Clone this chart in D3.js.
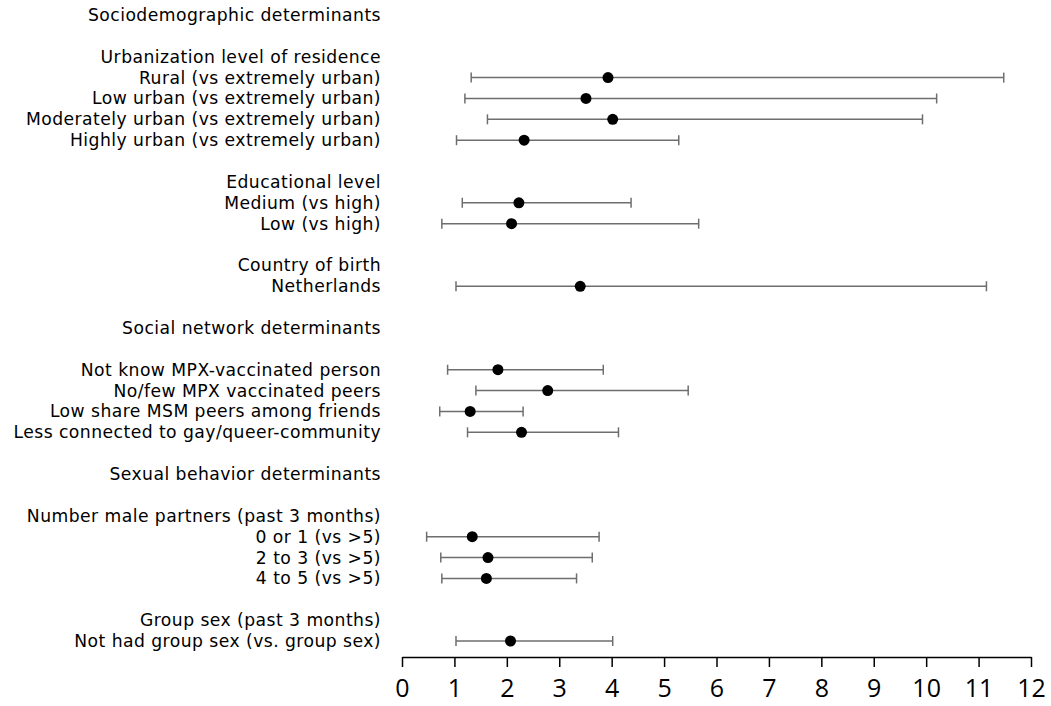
<!DOCTYPE html>
<html>
<head>
<meta charset="utf-8">
<script src="https://cdn.jsdelivr.net/npm/d3@7"></script>
<style>
  body { margin: 0; background: #fff; }
  svg { display: block; font-family: "DejaVu Sans", "Liberation Sans", Arial, sans-serif; }
</style>
</head>
<body>
<div id="chart"></div>
<script>
// one entry per row, "" = empty spacer row
const labels = [
    "Sociodemographic determinants", "",
    "Urbanization level of residence",
    "Rural (vs extremely urban)",
    "Low urban (vs extremely urban)",
    "Moderately urban (vs extremely urban)",
    "Highly urban (vs extremely urban)", "",
    "Educational level",
    "Medium (vs high)",
    "Low (vs high)", "",
    "Country of birth",
    "Netherlands", "",
    "Social network determinants", "",
    "Not know MPX-vaccinated person",
    "No/few MPX vaccinated peers",
    "Low share MSM peers among friends",
    "Less connected to gay/queer-community", "",
    "Sexual behavior determinants", "",
    "Number male partners (past 3 months)",
    "0 or 1 (vs >5)",
    "2 to 3 (vs >5)",
    "4 to 5 (vs >5)", "",
    "Group sex (past 3 months)",
    "Not had group sex (vs. group sex)"
];

// estimates per row (null = no marker)
const estimate = [null, null, null, 3.93, 3.51, 4.02, 2.33, null, null, 2.23, 2.09, null, null, 3.40, null,
    null, null, 1.83, 2.78, 1.30, 2.28, null, null, null, null, 1.34, 1.64, 1.61, null, null, 2.07];
const lower = [null, null, null, 1.32, 1.20, 1.63, 1.04, null, null, 1.15, 0.76, null, null, 1.03, null,
    null, null, 0.87, 1.41, 0.72, 1.25, null, null, null, null, 0.47, 0.74, 0.76, null, null, 1.03];
const upper = [null, null, null, 11.48, 10.20, 9.93, 5.28, null, null, 4.37, 5.66, null, null, 11.15, null,
    null, null, 3.84, 5.46, 2.31, 4.13, null, null, null, null, 3.76, 3.63, 3.33, null, null, 4.02];

const xTicks = d3.range(0, 13);

const width = 1051, height = 706;
const svg = d3.select("#chart").append("svg")
    .attr("width", width)
    .attr("height", height);

const x = d3.scaleLinear().domain([0, 12]).range([402, 1031]);
const y = d3.scaleLinear().domain([0, labels.length - 1]).range([15, 641]);

// row labels
svg.append("g")
    .selectAll("text")
    .data(labels)
    .enter().append("text")
    .attr("x", 381)
    .attr("y", (d, i) => y(i))
    .attr("dy", "0.35em")
    .attr("text-anchor", "end")
    .attr("font-size", 17.2)
    .attr("letter-spacing", 0.45)
    .attr("fill", "#000")
    .text(d => d);

const rows = labels.map((d, i) => ({ i, est: estimate[i], lo: lower[i], hi: upper[i] }))
    .filter(d => d.est != null);

const bars = svg.append("g")
    .attr("stroke", "#6e6e6e")
    .attr("stroke-width", 1.5);

bars.selectAll(".ci")
    .data(rows)
    .enter().append("line")
    .attr("x1", d => x(d.lo))
    .attr("x2", d => x(d.hi))
    .attr("y1", d => y(d.i))
    .attr("y2", d => y(d.i));

bars.selectAll(".capL")
    .data(rows)
    .enter().append("line")
    .attr("x1", d => x(d.lo))
    .attr("x2", d => x(d.lo))
    .attr("y1", d => y(d.i) - 5)
    .attr("y2", d => y(d.i) + 5);

bars.selectAll(".capR")
    .data(rows)
    .enter().append("line")
    .attr("x1", d => x(d.hi))
    .attr("x2", d => x(d.hi))
    .attr("y1", d => y(d.i) - 5)
    .attr("y2", d => y(d.i) + 5);

svg.append("g")
    .selectAll("circle")
    .data(rows)
    .enter().append("circle")
    .attr("cx", d => x(d.est))
    .attr("cy", d => y(d.i))
    .attr("r", 5.5)
    .attr("fill", "#000");

// x axis
const axis = svg.append("g")
    .attr("transform", "translate(0,657)")
    .call(d3.axisBottom(x).tickValues(xTicks).tickSize(10).tickSizeOuter(0).tickPadding(12));

axis.select(".domain").attr("stroke", "#000").attr("stroke-width", 1.5);
axis.selectAll(".tick line").attr("stroke", "#000").attr("stroke-width", 1.5);
axis.selectAll(".tick text")
    .attr("font-size", 25)
    .attr("font-family", "'Open Sans', 'Liberation Sans', Arial, sans-serif")
    .attr("fill", "#000");
</script>
</body>
</html>
